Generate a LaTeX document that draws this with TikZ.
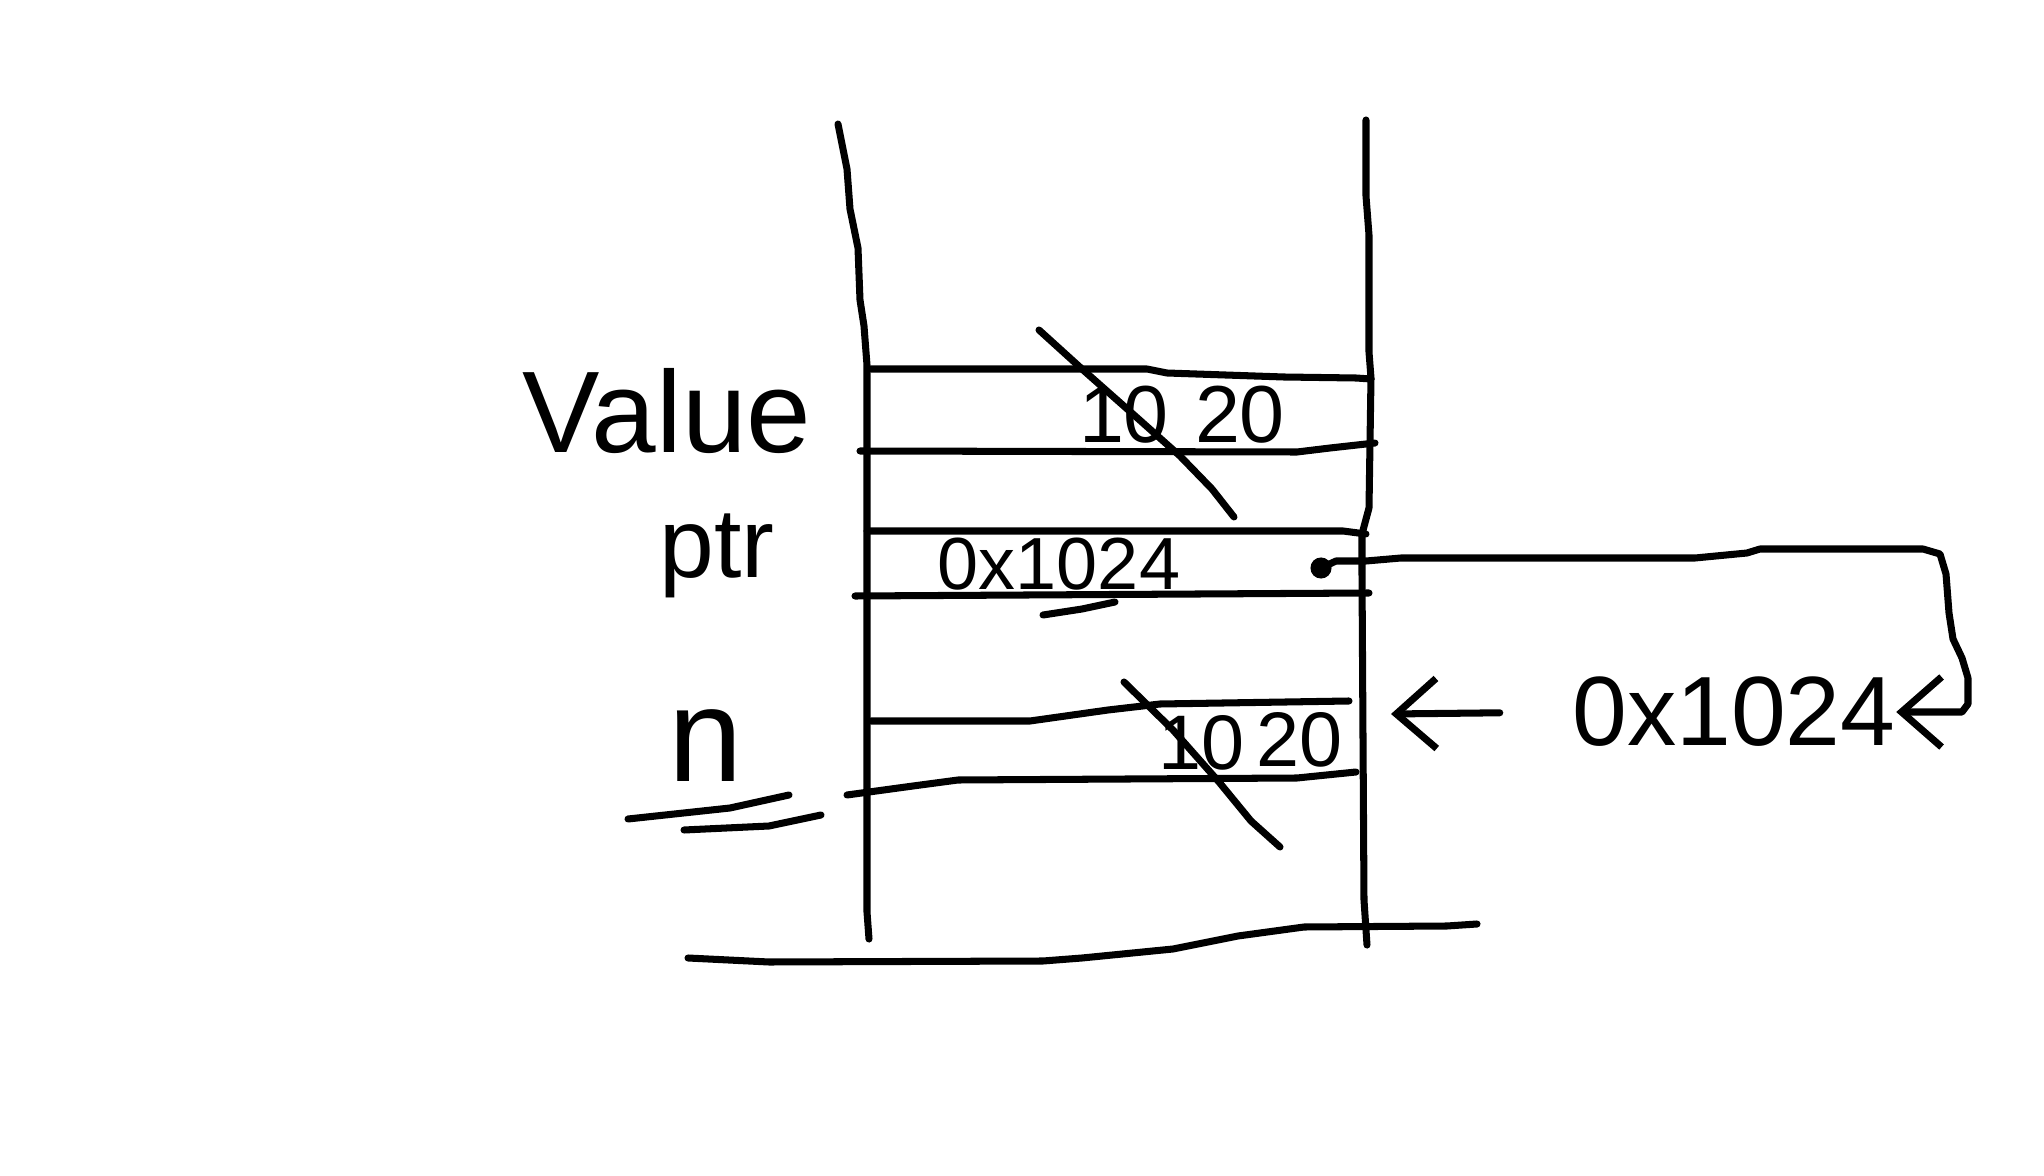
\documentclass[tikz,border=0pt]{standalone}
\usepackage{fontspec}
\setmainfont{Liberation Sans}
\usetikzlibrary{arrows.meta}

\tikzset{
    pen/.style={line width=2pt, line cap=round, line join=round},
    hand/.style={inner sep=0pt, font=\fontsize{#1}{#1}\selectfont},
    barb/.style={-{Straight Barb[length=4mm, width=7mm]}},
}

\begin{document}
\begin{tikzpicture}[x=0.01cm, y=-0.01cm]
    \useasboundingbox (0,0) rectangle (2044,1176);

    % 绘制栈的两侧
    \draw[pen] (838,124) -- (847,169) -- (850,209) -- (858,248) -- (860,300)
        -- (864,326) -- (867,365) -- (867,912) -- (869,939);
    \draw[pen] (1366,120) -- (1366,196) -- (1369,235) -- (1369,352) -- (1371,378)
        -- (1369,508) -- (1362,534) -- (1362,574) -- (1364,900) -- (1367,945);
    \draw[pen] (688,958) -- (769,962) -- (1043,961) -- (1082,958) -- (1173,949)
        -- (1238,936) -- (1304,927) -- (1447,926) -- (1477,924);

    % 各个格子
    \draw[pen] (871,369) -- (1147,369) -- (1167,373) -- (1284,377) -- (1356,378) -- (1371,379);
    \draw[pen] (860,451) -- (1297,452) -- (1330,448) -- (1375,443);
    \draw[pen] (867,531) -- (1343,531) -- (1366,534);
    \draw[pen] (855,596) -- (1369,593);
    \draw[pen] (871,721) -- (1030,721) -- (1108,710) -- (1160,704) -- (1349,701);
    \draw[pen] (847,795) -- (913,786) -- (958,780) -- (1297,778) -- (1356,772);

    % 变量名
    \node[hand=33] (value) at (667,411) {Value};
    \node[hand=28] (ptr) at (717,556) {ptr};
    \node[hand=38] (n) at (706,746) {n};
    \draw[pen] (628,819) -- (730,808) -- (789,795);
    \draw[pen] (684,830) -- (769,826) -- (821,815);

    % 格子里的值
    \node[hand=23] (oldval) at (1124,415) {10};
    \node[hand=23] (newval) at (1240,415) {20};
    \draw[pen] (1039,330) -- (1082,369) -- (1134,415) -- (1180,456) -- (1212,489) -- (1234,517);

    \node[hand=21] (ptrval) at (1059,564) {0x1024};
    \draw[pen] (1043,615) -- (1082,609) -- (1115,602);

    \node[hand=22] (oldn) at (1202,743) {10};
    \node[hand=22] (newn) at (1300,740) {20};
    \draw[pen] (1124,682) -- (1173,730) -- (1219,782) -- (1251,821) -- (1280,847);

    % 地址和箭头
    \node[hand=28] (addr) at (1734,712) {0x1024};
    \coordinate (ptrdot) at (1321,568);
    \coordinate (ncell) at (1391,714);
    \fill (ptrdot) circle (3pt);
    \draw[pen, barb] (ptrdot) -- (1336,561) -- (1366,561) -- (1401,558) -- (1695,558)
        -- (1747,553) -- (1760,549) -- (1923,549) -- (1940,554) -- (1946,574)
        -- (1949,613) -- (1953,639) -- (1962,658) -- (1968,678) -- (1968,704)
        -- (1962,712) -- (addr.east);
    \draw[pen, barb, shorten <=0.72cm] (addr.west) -- (ncell);
\end{tikzpicture}
\end{document}
